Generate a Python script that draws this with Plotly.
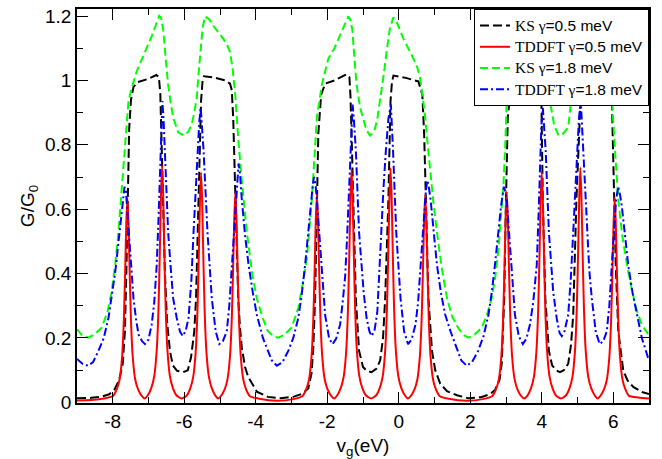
import plotly.graph_objects as go

# ---- data ----
ks05_x = [-9, -8.6, -8.3, -8.1, -7.95, -7.82, -7.72, -7.66, -7.62, -7.58, -7.54, -7.49, -7.42, -7.3, -7.0,
          -6.78, -6.71, -6.67, -6.63, -6.59, -6.54, -6.48, -6.4, -6.32, -6.2, -6.03, -5.9, -5.81, -5.72, -5.67,
          -5.63, -5.59, -5.56, -5.53, -5.49, -5.45, -5.2, -4.85, -4.72, -4.67, -4.63, -4.59, -4.56, -4.52, -4.49,
          -4.44, -4.39, -4.3, -4.21, -3.97, -3.66, -3.3, -2.95, -2.7, -2.53, -2.44, -2.39, -2.34, -2.29, -2.25,
          -2.17, -2.06, -1.8, -1.46, -1.38, -1.35, -1.32, -1.27, -1.2, -1.11, -1.0, -0.9, -0.76, -0.62, -0.52,
          -0.44, -0.38, -0.29, -0.23, -0.19, -0.149, 0.2, 0.55, 0.66, 0.71, 0.76, 0.83, 0.93, 1.02, 1.16, 1.35,
          1.63, 1.94, 2.3, 2.55, 2.69, 2.82, 2.88, 2.95, 3.0, 3.05, 3.12, 3.2, 3.55, 3.88, 3.95, 3.99, 4.03, 4.1,
          4.2, 4.29, 4.4, 4.51, 4.62, 4.74, 4.82, 4.88, 4.97, 5.05, 5.1, 5.14, 5.5, 5.85, 5.93, 5.96, 6.01, 6.07,
          6.14, 6.28, 6.4, 6.56, 6.8, 7.0]
ks05_y = [0.013, 0.014, 0.018, 0.025, 0.04, 0.07, 0.12, 0.22, 0.4, 0.65, 0.85, 0.94, 0.98, 0.995, 1.005,
          1.017, 1.01, 0.96, 0.8, 0.6, 0.4, 0.25, 0.16, 0.115, 0.098, 0.094, 0.1, 0.14, 0.22, 0.323,
          0.48, 0.63, 0.8, 0.936, 0.995, 1.013, 1.01, 1.0, 0.99, 0.97, 0.88, 0.72, 0.6, 0.45, 0.323,
          0.23, 0.17, 0.11, 0.079, 0.033, 0.017, 0.013, 0.017, 0.027, 0.043, 0.09, 0.17, 0.323, 0.63, 0.834,
          0.956, 0.99, 1.0, 1.019, 1.01, 0.95, 0.834, 0.63, 0.323, 0.16, 0.11, 0.098, 0.094, 0.105, 0.13,
          0.2, 0.323, 0.63, 0.936, 0.995, 1.015, 1.008, 0.997, 0.956, 0.834, 0.63, 0.323, 0.16, 0.1, 0.058, 0.035,
          0.022, 0.013, 0.016, 0.025, 0.038, 0.07, 0.12, 0.323, 0.63, 0.885, 0.96, 0.985, 1.0, 1.018, 1.0, 0.936, 0.63, 0.323,
          0.16, 0.115, 0.1, 0.094, 0.1, 0.12, 0.18, 0.272, 0.63, 0.885, 0.98, 1.015, 1.01, 0.997, 0.975, 0.946, 0.73, 0.426,
          0.221, 0.099, 0.068, 0.048, 0.032, 0.026]

td05_x = [-9, -8.6, -8.3,
          -7.99, -7.89, -7.81, -7.74, -7.69, -7.65, -7.62, -7.59, -7.56, -7.53, -7.49, -7.44, -7.37, -7.29, -7.19,
          -7.105,
          -7.02, -6.92, -6.84, -6.77, -6.72, -6.68, -6.65, -6.62, -6.59, -6.56, -6.52, -6.47, -6.40, -6.32, -6.22,
          -6.075,
          -5.93, -5.83, -5.75, -5.68, -5.63, -5.59, -5.56, -5.53, -5.50, -5.47, -5.43, -5.38, -5.31, -5.23, -5.13,
          -5.05,
          -4.97, -4.87, -4.79, -4.72, -4.67, -4.63, -4.60, -4.57, -4.54, -4.51, -4.47, -4.42, -4.35, -4.27, -4.17,
          -3.9, -3.4, -2.95,
          -2.69, -2.59, -2.51, -2.44, -2.39, -2.35, -2.32, -2.29, -2.26, -2.23, -2.19, -2.14, -2.07, -1.99, -1.89,
          -1.805,
          -1.72, -1.62, -1.54, -1.47, -1.42, -1.38, -1.35, -1.32, -1.29, -1.26, -1.22, -1.17, -1.10, -1.02, -0.92,
          -0.775,
          -0.63, -0.53, -0.45, -0.38, -0.33, -0.29, -0.26, -0.23, -0.20, -0.17, -0.13, -0.08, -0.01, 0.07, 0.17,
          0.255,
          0.34, 0.44, 0.52, 0.59, 0.64, 0.68, 0.71, 0.74, 0.77, 0.80, 0.84, 0.89, 0.96, 1.04, 1.14,
          1.4, 1.9, 2.35,
          2.62, 2.72, 2.80, 2.87, 2.92, 2.96, 2.99, 3.02, 3.05, 3.08, 3.12, 3.17, 3.24, 3.32, 3.42,
          3.51,
          3.60, 3.70, 3.78, 3.85, 3.90, 3.94, 3.97, 4.00, 4.03, 4.06, 4.10, 4.15, 4.22, 4.30, 4.40,
          4.54,
          4.68, 4.78, 4.86, 4.93, 4.98, 5.02, 5.05, 5.08, 5.11, 5.14, 5.18, 5.23, 5.30, 5.38, 5.48,
          5.56,
          5.64, 5.74, 5.82, 5.89, 5.94, 5.98, 6.01, 6.04, 6.07, 6.10, 6.14, 6.19, 6.26, 6.34, 6.44,
          6.7, 7.0]
td05_y = [0.006, 0.007, 0.011,
          0.02, 0.04, 0.07, 0.14, 0.254, 0.42, 0.56, 0.635, 0.56, 0.42, 0.254, 0.14, 0.07, 0.04, 0.02,
          0.012,
          0.022, 0.045, 0.081, 0.162, 0.294, 0.485, 0.647, 0.735, 0.647, 0.485, 0.294, 0.162, 0.081, 0.045, 0.022,
          0.012,
          0.021, 0.044, 0.079, 0.157, 0.286, 0.471, 0.628, 0.714, 0.628, 0.471, 0.286, 0.157, 0.079, 0.044, 0.021,
          0.012,
          0.02, 0.04, 0.072, 0.144, 0.261, 0.431, 0.575, 0.653, 0.575, 0.431, 0.261, 0.144, 0.072, 0.04, 0.02,
          0.011, 0.005, 0.01,
          0.02, 0.04, 0.071, 0.142, 0.259, 0.427, 0.569, 0.647, 0.569, 0.427, 0.259, 0.142, 0.071, 0.04, 0.02,
          0.012,
          0.022, 0.045, 0.08, 0.159, 0.29, 0.478, 0.637, 0.724, 0.637, 0.478, 0.29, 0.159, 0.08, 0.045, 0.022,
          0.012,
          0.022, 0.045, 0.08, 0.16, 0.291, 0.48, 0.64, 0.727, 0.64, 0.48, 0.291, 0.16, 0.08, 0.045, 0.022,
          0.012,
          0.02, 0.04, 0.071, 0.142, 0.258, 0.426, 0.568, 0.645, 0.568, 0.426, 0.258, 0.142, 0.071, 0.04, 0.02,
          0.011, 0.005, 0.01,
          0.02, 0.04, 0.072, 0.144, 0.262, 0.432, 0.576, 0.655, 0.576, 0.432, 0.262, 0.144, 0.072, 0.04, 0.02,
          0.012,
          0.021, 0.044, 0.079, 0.158, 0.286, 0.473, 0.63, 0.716, 0.63, 0.473, 0.286, 0.158, 0.079, 0.044, 0.021,
          0.012,
          0.022, 0.045, 0.08, 0.16, 0.292, 0.481, 0.642, 0.729, 0.642, 0.481, 0.292, 0.16, 0.08, 0.045, 0.022,
          0.012,
          0.02, 0.04, 0.07, 0.14, 0.254, 0.42, 0.56, 0.635, 0.56, 0.42, 0.254, 0.14, 0.07, 0.04, 0.02,
          0.015, 0.012]

ks18_x = [-9, -8.85, -8.68, -8.5, -8.31, -8.15, -8.03, -7.93, -7.84, -7.77, -7.70, -7.63, -7.56, -7.47, -7.33,
          -7.19, -7.05, -6.9, -6.77, -6.70, -6.65, -6.59, -6.52, -6.45, -6.38, -6.31, -6.17, -6.01, -5.89, -5.79,
          -5.72, -5.65, -5.60, -5.55, -5.49, -5.42, -5.3, -5.19, -5.05, -4.91, -4.8, -4.72, -4.65, -4.57, -4.49,
          -4.4, -4.25, -4.1, -3.97, -3.8, -3.66, -3.5, -3.37, -3.2, -3.0, -2.81, -2.7, -2.57, -2.43, -2.36,
          -2.29, -2.15, -1.97, -1.8, -1.64, -1.5, -1.41, -1.36, -1.30, -1.24, -1.18, -1.08, -1.0, -0.90, -0.80,
          -0.68, -0.6, -0.52, -0.43, -0.34, -0.25, -0.15, -0.05, 0.13, 0.27, 0.41, 0.52, 0.60, 0.67, 0.74,
          0.81, 0.88, 0.97, 1.07, 1.2, 1.35, 1.5, 1.66, 1.8, 1.95, 2.12, 2.32, 2.46, 2.60, 2.70,
          2.79, 2.86, 2.93, 2.98, 3.02, 3.1, 3.25, 3.4, 3.55, 3.7, 3.82, 3.9, 3.95, 4.01, 4.08,
          4.15, 4.23, 4.35, 4.47, 4.6, 4.74, 4.83, 4.88, 4.94, 5.0, 5.1, 5.2, 5.35, 5.5, 5.65,
          5.78, 5.86, 5.92, 5.96, 6.05, 6.14, 6.25, 6.38, 6.52, 6.66, 6.8, 7.0]
ks18_y = [0.227, 0.207, 0.201, 0.212, 0.232, 0.28, 0.344, 0.43, 0.53, 0.63, 0.73, 0.84, 0.936, 0.977, 1.028,
          1.065, 1.099, 1.14, 1.18, 1.201, 1.195, 1.16, 1.07, 0.987, 0.93, 0.885, 0.839, 0.829, 0.84, 0.864,
          0.9, 0.946, 1.02, 1.089, 1.16, 1.199, 1.19, 1.17, 1.15, 1.13, 1.11, 1.089, 1.04, 0.95, 0.82,
          0.7, 0.53, 0.4, 0.323, 0.26, 0.221, 0.205, 0.201, 0.21, 0.232, 0.293, 0.36, 0.446, 0.63, 0.76,
          0.885, 0.987, 1.068, 1.1, 1.14, 1.18, 1.199, 1.19, 1.16, 1.07, 0.987, 0.915, 0.88, 0.845, 0.829,
          0.845, 0.88, 0.936, 1.01, 1.089, 1.16, 1.196, 1.18, 1.13, 1.1, 1.068, 1.04, 1.007, 0.95, 0.885,
          0.8, 0.711, 0.62, 0.528, 0.42, 0.323, 0.265, 0.232, 0.21, 0.201, 0.21, 0.232, 0.27, 0.323, 0.39,
          0.477, 0.57, 0.68, 0.8, 0.936, 0.98, 1.03, 1.07, 1.1, 1.14, 1.18, 1.2, 1.19, 1.16, 1.07,
          0.987, 0.936, 0.86, 0.829, 0.835, 0.854, 0.946, 1.02, 1.1, 1.16, 1.2, 1.19, 1.16, 1.14, 1.11,
          1.08, 1.04, 0.99, 0.946, 0.783, 0.63, 0.52, 0.43, 0.35, 0.285, 0.24, 0.208]

td18_x = [-9, -8.85, -8.69, -8.55, -8.40, -8.25, -8.12, -8.02, -7.93, -7.79, -7.72, -7.67, -7.63, -7.58, -7.52,
          -7.42, -7.35, -7.28, -7.18, -7.10, -7.0, -6.91, -6.84, -6.77, -6.72, -6.68, -6.64, -6.61, -6.575, -6.54,
          -6.45, -6.38, -6.31, -6.21, -6.12, -6.04, -5.96, -5.88, -5.8, -5.74, -5.68, -5.63, -5.58, -5.54, -5.50,
          -5.46, -5.35, -5.29, -5.23, -5.12, -5.02, -4.92, -4.81, -4.74, -4.67, -4.58, -4.52, -4.48, -4.44, -4.39,
          -4.30, -4.20, -4.08, -3.97, -3.8, -3.66, -3.55, -3.41, -3.25, -3.09, -2.95, -2.81, -2.72, -2.62, -2.45,
          -2.40, -2.37, -2.33, -2.29, -2.20, -2.13, -2.06, -1.95, -1.85, -1.75, -1.64, -1.57, -1.50, -1.45, -1.40,
          -1.36, -1.32, -1.29, -1.25, -1.20, -1.11, -1.04, -0.98, -0.9, -0.82, -0.76, -0.68, -0.6, -0.55, -0.50,
          -0.43, -0.36, -0.29, -0.22, -0.19, -0.16, -0.07, 0.0, 0.05, 0.15, 0.26, 0.36, 0.47, 0.54, 0.61,
          0.7, 0.76, 0.80, 0.84, 0.89, 0.98, 1.07, 1.18, 1.30, 1.45, 1.62, 1.75, 1.90, 2.05, 2.22,
          2.37, 2.51, 2.60, 2.69, 2.78, 2.86, 2.94, 2.98, 3.02, 3.11, 3.18, 3.25, 3.36, 3.47, 3.57,
          3.67, 3.76, 3.86, 3.91, 3.95, 3.99, 4.03, 4.07, 4.11, 4.20, 4.26, 4.32, 4.42, 4.50, 4.56,
          4.64, 4.74, 4.81, 4.88, 4.94, 4.99, 5.04, 5.09, 5.12, 5.16, 5.26, 5.33, 5.40, 5.51, 5.62,
          5.72, 5.82, 5.89, 5.96, 6.02, 6.08, 6.14, 6.19, 6.24, 6.33, 6.42, 6.54, 6.66, 6.8, 6.97, 7.0]
td18_y = [0.135, 0.12, 0.114, 0.125, 0.16, 0.2, 0.262, 0.33, 0.405, 0.548, 0.62, 0.67, 0.655, 0.58, 0.477,
          0.323, 0.26, 0.211, 0.19, 0.181, 0.195, 0.242, 0.31, 0.426, 0.57, 0.73, 0.87, 0.936, 0.87, 0.783,
          0.528, 0.42, 0.323, 0.262, 0.22, 0.206, 0.222, 0.262, 0.38, 0.528, 0.66, 0.783, 0.87, 0.915, 0.86,
          0.783, 0.528, 0.42, 0.323, 0.22, 0.181, 0.19, 0.221, 0.3, 0.426, 0.6, 0.7, 0.742, 0.71, 0.63,
          0.52, 0.426, 0.34, 0.272, 0.2, 0.16, 0.13, 0.114, 0.125, 0.16, 0.2, 0.262, 0.33, 0.426, 0.63,
          0.68, 0.70, 0.68, 0.63, 0.477, 0.37, 0.272, 0.2, 0.181, 0.198, 0.242, 0.31, 0.39, 0.5, 0.62,
          0.73, 0.86, 0.925, 0.87, 0.783, 0.528, 0.42, 0.34, 0.262, 0.22, 0.206, 0.222, 0.28, 0.4, 0.528,
          0.66, 0.783, 0.88, 0.925, 0.86, 0.783, 0.528, 0.4, 0.323, 0.22, 0.181, 0.195, 0.242, 0.31, 0.426,
          0.58, 0.66, 0.69, 0.67, 0.63, 0.52, 0.426, 0.34, 0.272, 0.22, 0.17, 0.13, 0.114, 0.125, 0.16,
          0.205, 0.272, 0.34, 0.426, 0.52, 0.609, 0.67, 0.655, 0.63, 0.477, 0.37, 0.272, 0.205, 0.181, 0.198,
          0.242, 0.31, 0.426, 0.58, 0.73, 0.86, 0.915, 0.86, 0.783, 0.528, 0.43, 0.344, 0.26, 0.215, 0.206,
          0.222, 0.272, 0.38, 0.528, 0.66, 0.783, 0.88, 0.94, 0.87, 0.783, 0.528, 0.41, 0.323, 0.22, 0.181,
          0.19, 0.221, 0.3, 0.426, 0.53, 0.63, 0.67, 0.645, 0.609, 0.52, 0.426, 0.34, 0.272, 0.2, 0.14, 0.135]

x_ticks = [-8, -6, -4, -2, 0, 2, 4, 6]
x_tick_text = ["-8", "-6", "-4", "-2", "0", "2", "4", "6"]
y_ticks = [0, 0.2, 0.4, 0.6, 0.8, 1, 1.2]
y_tick_text = ["0", "0.2", "0.4", "0.6", "0.8", "1", "1.2"]
label_heads = ["KS γ", "TDDFT γ", "KS γ", "TDDFT γ"]
label_tails = ["=0.5 meV", "=0.5 meV", "=1.8 meV", "=1.8 meV"]

serif = "Liberation Serif, Times New Roman, serif"
sans = "Liberation Sans, Arial, sans-serif"
lg_text = 15.5
names = [
    f'<span style="font-family:{serif};font-size:{lg_text}px">{a}</span>'
    f'<span style="font-family:{sans};font-size:{lg_text}px">{b}</span>'
    for a, b in zip(label_heads, label_tails)
]

fig = go.Figure()
fig.add_trace(go.Scatter(x=ks05_x, y=ks05_y, mode="lines", name=names[0],
                         line=dict(color="black", width=2, dash="9px,4px")))
fig.add_trace(go.Scatter(x=td05_x, y=td05_y, mode="lines", name=names[1],
                         line=dict(color="#ff0000", width=2, shape="spline", smoothing=0.6)))
fig.add_trace(go.Scatter(x=ks18_x, y=ks18_y, mode="lines", name=names[2],
                         line=dict(color="#00ff00", width=2, dash="8px,4px")))
fig.add_trace(go.Scatter(x=td18_x, y=td18_y, mode="lines", name=names[3],
                         line=dict(color="#0000ff", width=2, dash="8px,3px,2px,3px")))

axis_common = dict(showline=True, linecolor="black", linewidth=1.5, mirror="allticks",
                   ticks="inside", ticklen=11, tickwidth=1.2, tickcolor="black",
                   showgrid=False, zeroline=False,
                   tickfont=dict(family=sans, size=19, color="black"))

fig.update_layout(
    width=662, height=459,
    margin=dict(l=77, r=13, t=6, b=53),
    paper_bgcolor="white", plot_bgcolor="white",
    font=dict(family=sans, color="black"),
    showlegend=True,
    legend=dict(x=1, y=1, xanchor="right", yanchor="top",
                bgcolor="white", bordercolor="black", borderwidth=1,
                font=dict(family=sans, size=14, color="black"),
                tracegroupgap=0),
    xaxis=dict(range=[-9, 7], tickmode="array", tickvals=x_ticks, ticktext=x_tick_text,
               minor=dict(dtick=1, tick0=0, ticks="inside", ticklen=6, tickcolor="black", tickwidth=1.2),
               title=dict(text="v<sub>g</sub>(eV)", font=dict(size=19), standoff=8),
               **axis_common),
    yaxis=dict(range=[-0.002, 1.222], tickmode="array", tickvals=y_ticks, ticktext=y_tick_text,
               minor=dict(dtick=0.1, tick0=0, ticks="inside", ticklen=6, tickcolor="black", tickwidth=1.2),
               title=dict(text="G/G<sub>0</sub>", font=dict(size=19), standoff=5),
               **axis_common),
)

fig.write_html("out.html")
